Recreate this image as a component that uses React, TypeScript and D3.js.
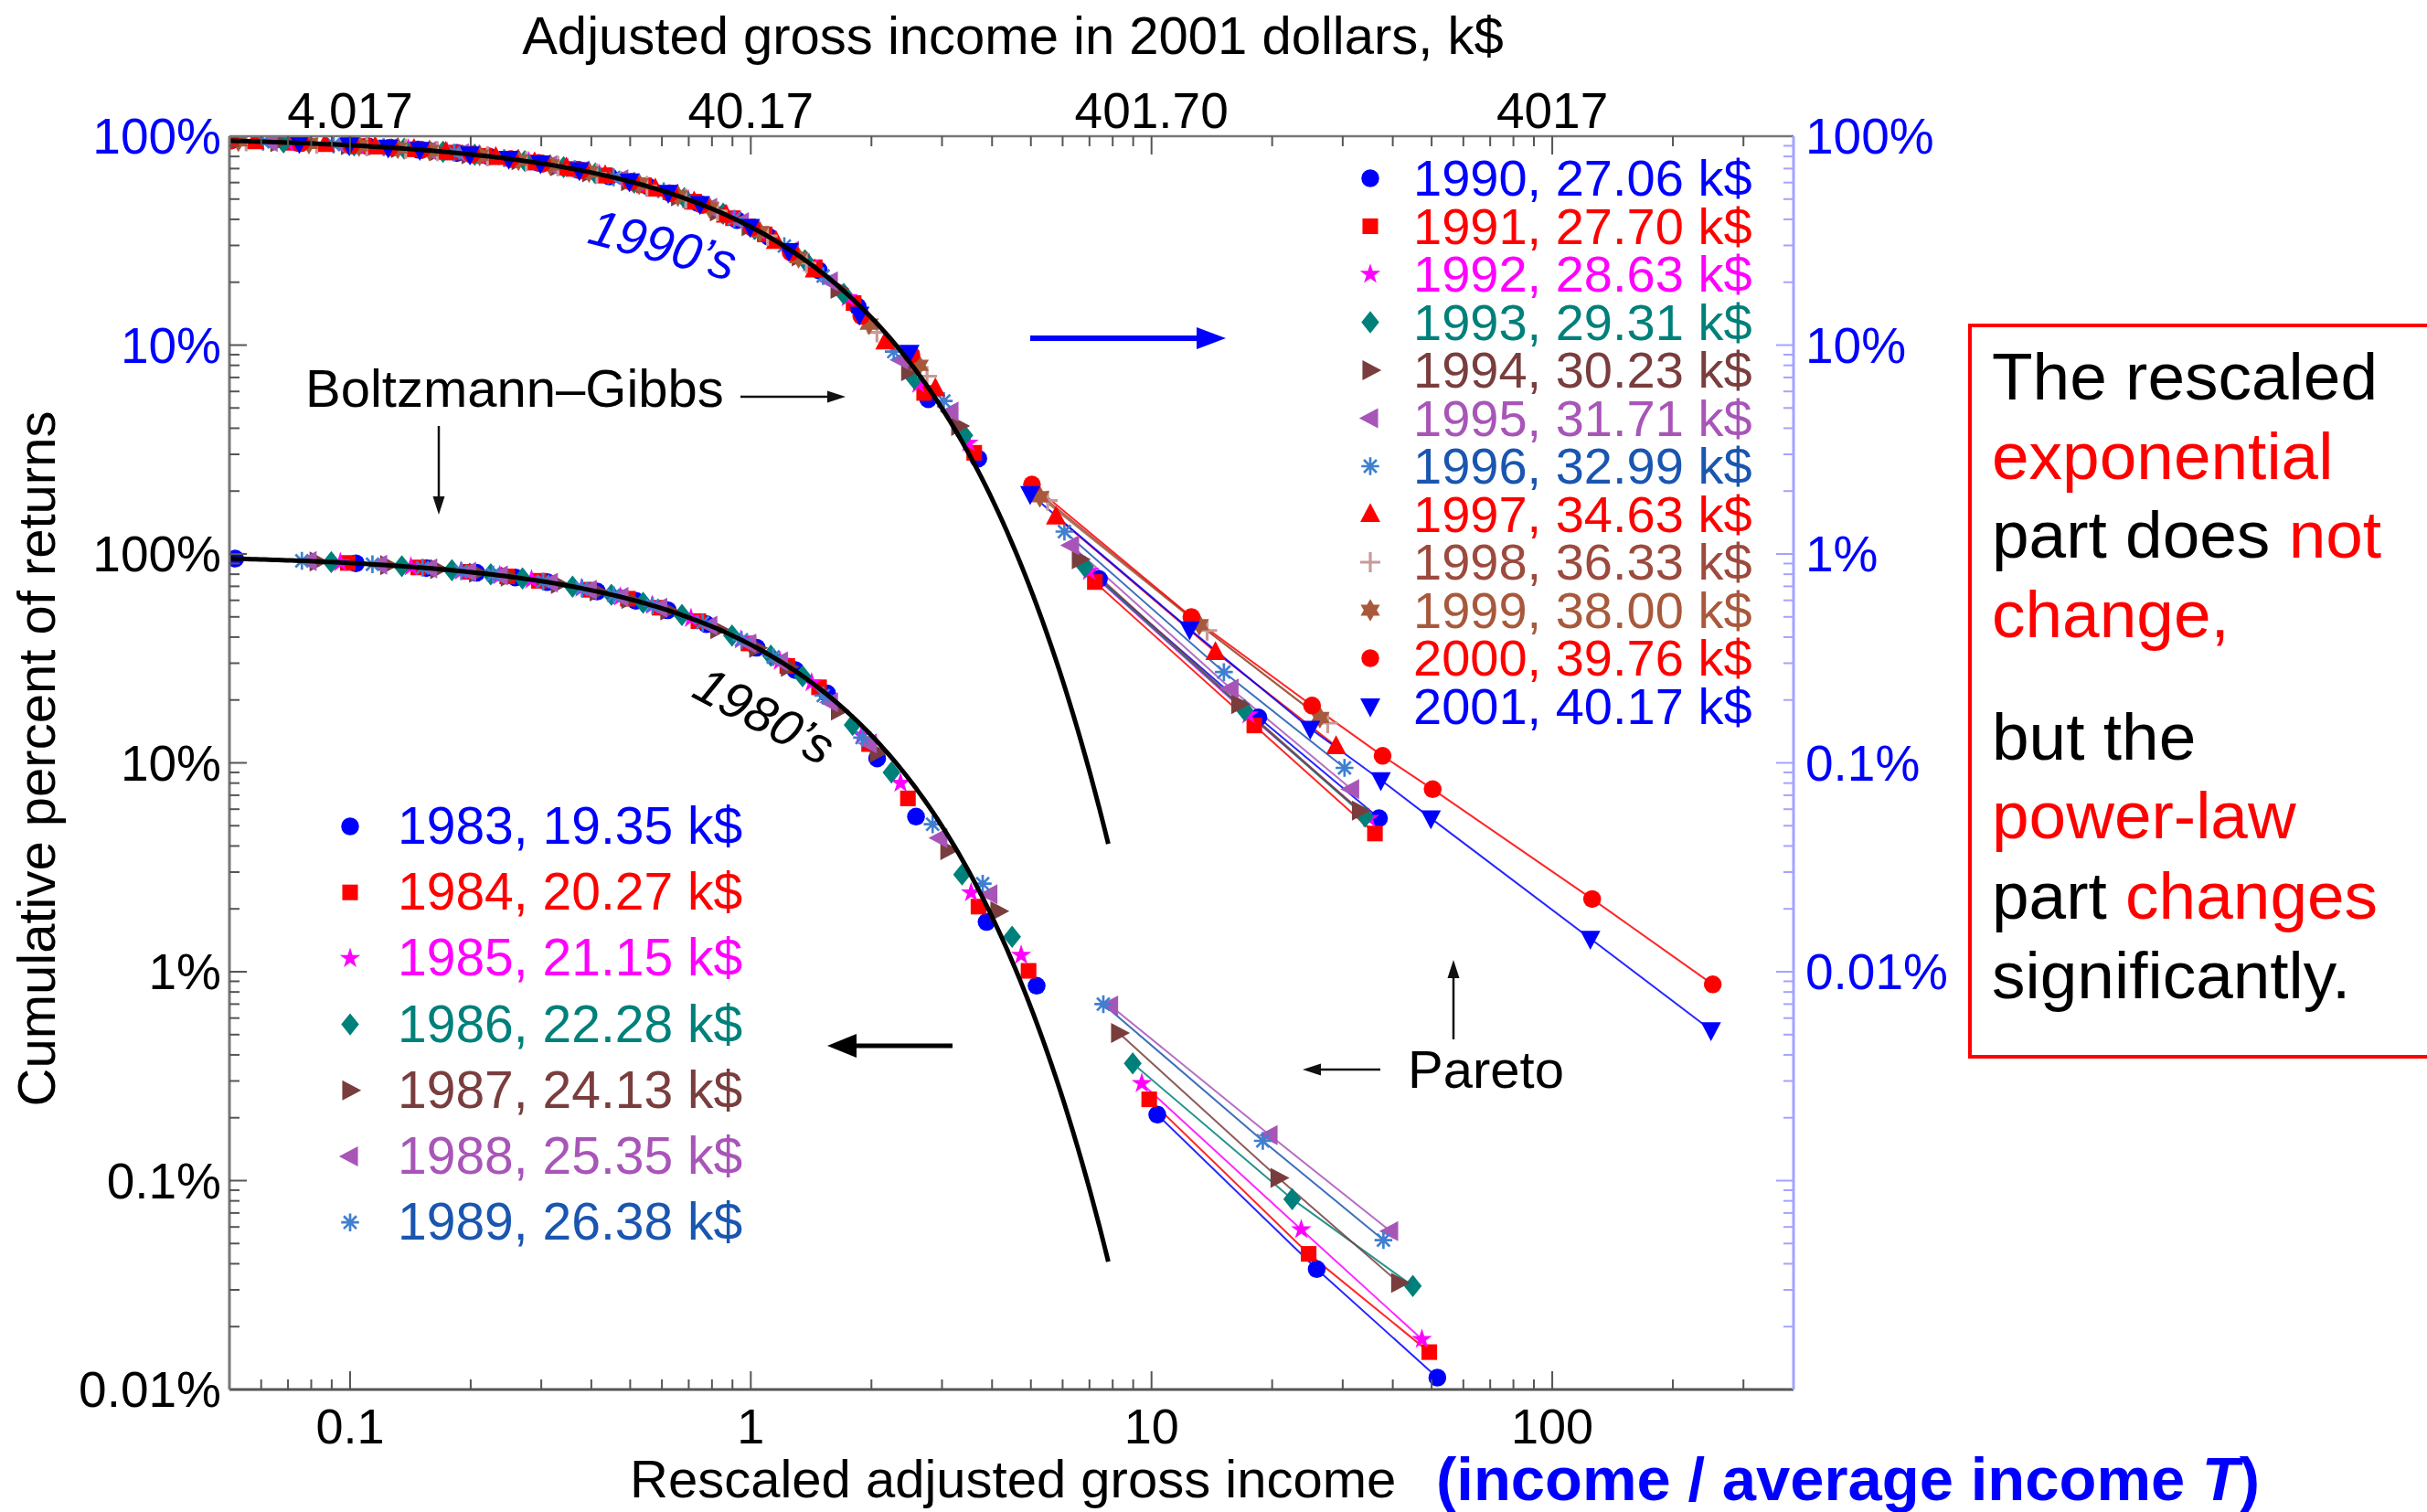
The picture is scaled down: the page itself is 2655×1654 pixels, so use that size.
import React from "react";
import * as d3 from "d3";

const WIDTH = 2655;
const HEIGHT = 1654;
const FRAME = { left: 251, right: 1962, top: 149, bottom: 1520 };
const FONT = "'Liberation Sans', Arial, Helvetica, sans-serif";

// ---- axes -------------------------------------------------------------
const xDomain = [0.05, 400]; // rescaled income, income / T
const bottomTickValues = [0.1, 1, 10, 100];
const bottomTickLabels = ["0.1", "1", "10", "100"];
const topTickLabels = ["4.017", "40.17", "401.70", "4017"]; // k$ at T = 40.17

// left axis, expressed on the 1980s percent scale
const leftTickPercents = [10000, 1000, 100, 10, 1, 0.1, 0.01];
const leftTickLabels = ["100%", "10%", "100%", "10%", "1%", "0.1%", "0.01%"];
const leftTickNineties = [true, true, false, false, false, false, false];
// right axis, on the 1990s percent scale
const rightTickPercents = [100, 10, 1, 0.1, 0.01];
const rightTickLabels = ["100%", "10%", "1%", "0.1%", "0.01%"];

// ---- income brackets (k$) ------------------------------------------------
const bgBracketsK = [1, 2, 3, 4, 5, 6, 8, 10, 12, 15, 20, 25, 30, 40, 50, 75, 100];
const paretoBracketsK = [200, 500, 1000];
const paretoBracketsLongK = [200, 500, 1000, 1500, 2000, 5000, 10000];

// ---- years and temperatures T (k$) ---------------------------------------
const years80s = [1983, 1984, 1985, 1986, 1987, 1988, 1989];
const temps80s = [19.35, 20.27, 21.15, 22.28, 24.13, 25.35, 26.38];
const years90s = [1990, 1991, 1992, 1993, 1994, 1995, 1996, 1997, 1998, 1999, 2000, 2001];
const temps90s = [27.06, 27.7, 28.63, 29.31, 30.23, 31.71, 32.99, 34.63, 36.33, 38.0, 39.76, 40.17];

// ---- cumulative percent of returns above each bracket ----------------------
const cum1983 = [95.0, 90.2, 85.6, 81.3, 77.2, 73.3, 66.1, 59.6, 53.8, 46.1, 35.6, 27.8, 21.5, 10.5, 5.53, 1.73, 0.857];
const cum1984 = [null, 90.6, 86.2, 82.1, 78.1, 74.4, 67.4, 61.1, 55.3, 47.7, 37.3, 29.1, 23.0, 12.3, 6.76, 2.05, 1.01];
const cum1985 = [null, 91.0, 86.8, 82.8, 78.9, 75.3, 68.5, 62.3, 56.7, 49.2, 38.8, 30.7, 24.2, 13.6, 8.0, 2.39, 1.2];
const cum1986 = [null, 91.4, 87.4, 83.6, 79.9, 76.4, 69.8, 63.8, 58.4, 51.0, 40.7, 32.6, 26.0, 15.2, 9.0, 2.92, 1.47];
const cum1987 = [null, 92.0, 88.3, 84.7, 81.3, 78.0, 71.8, 66.1, 60.8, 53.7, 43.7, 35.5, 28.8, 17.8, 11.2, 3.82, 1.95];
const cum1988 = [null, 92.4, 88.8, 85.4, 82.1, 78.9, 72.9, 67.4, 62.3, 55.3, 45.4, 37.3, 30.6, 19.5, 12.4, 4.37, 2.35];
const cum1989 = [null, 92.7, 89.3, 85.9, 82.7, 79.7, 73.8, 68.5, 63.4, 56.6, 46.9, 38.8, 32.1, 21.0, 13.2, 5.08, 2.64];

const cum1990 = [null, 92.9, 89.5, 86.3, 83.1, 80.1, 74.4, 69.1, 64.2, 57.5, 47.8, 39.7, 33.0, 22.8, 15.3, 5.51, 2.86];
const cum1991 = [null, 93.0, 89.7, 86.6, 83.5, 80.5, 74.9, 69.7, 64.9, 58.2, 48.6, 40.5, 33.9, 23.6, 15.9, 5.9, 3.05];
const cum1992 = [null, 93.3, 90.1, 87.0, 84.0, 81.1, 75.6, 70.5, 65.8, 59.2, 49.7, 41.8, 35.1, 24.7, 16.9, 6.5, 3.4];
const cum1993 = [null, 93.4, 90.3, 87.2, 84.3, 81.5, 76.1, 71.1, 66.4, 59.9, 50.6, 42.6, 35.9, 25.5, 17.6, 6.9, 3.7];
const cum1994 = [null, 93.6, 90.6, 87.6, 84.8, 82.0, 76.8, 71.8, 67.2, 60.9, 51.6, 43.7, 37.1, 26.6, 18.6, 7.5, 4.1];
const cum1995 = [null, 93.9, 91.0, 88.2, 85.4, 82.8, 77.7, 72.9, 68.5, 62.3, 53.2, 45.5, 38.8, 28.3, 20.2, 8.5, 4.8];
const cum1996 = [null, 94.1, 91.3, 88.6, 85.9, 83.4, 78.5, 73.9, 69.5, 63.5, 54.5, 46.9, 40.3, 29.8, 21.4, 9.3, 5.4];
const cum1997 = [null, 94.4, 91.7, 89.1, 86.6, 84.1, 79.4, 74.9, 70.7, 64.9, 56.1, 48.6, 42.1, 31.5, 23.0, 10.4, 6.2];
const cum1998 = [null, 94.6, 92.1, 89.6, 87.1, 84.8, 80.2, 75.9, 71.9, 66.2, 57.7, 50.3, 43.8, 33.3, 24.7, 11.5, 7.1];
const cum1999 = [null, 94.9, 92.4, 90.0, 87.7, 85.4, 81.0, 76.9, 72.9, 67.4, 59.1, 51.8, 45.4, 34.9, 26.2, 12.6, 8.0];
const cum2000 = [null, 95.1, 92.7, 90.4, 88.2, 86.0, 81.8, 77.8, 73.9, 68.6, 60.5, 53.3, 47.0, 36.6, 27.8, 13.8, 9.0];
const cum2001 = [null, 95.1, 92.8, 90.5, 88.3, 86.1, 81.9, 78.0, 74.2, 68.8, 60.8, 53.7, 47.4, 36.9, 28.2, 14.0, 9.2];

// ---- Pareto tails (percent above 200k, 500k, 1M, ...) ----------------------
const tail1983 = [0.207, 0.0377, 0.0114];
const tail1984 = [0.245, 0.0446, 0.0151];
const tail1985 = [0.292, 0.0583, 0.0174];
const tail1986 = [0.364, 0.0816, 0.0313];
const tail1987 = [0.509, 0.103, 0.0324];
const tail1988 = [0.689, 0.165, 0.0573];
const tail1989 = [0.7, 0.155, 0.0519];

const tail1990 = [0.759, 0.165, 0.0543];
const tail1991 = [0.734, 0.151, 0.0459];
const tail1992 = [0.826, 0.17, 0.0543];
const tail1993 = [0.869, 0.179, 0.0553];
const tail1994 = [0.944, 0.191, 0.0591];
const tail1995 = [1.1, 0.227, 0.0748];
const tail1996 = [1.28, 0.272, 0.0946];
const tail1997 = [1.51, 0.339, 0.12];
const tail1998 = [1.8, 0.43, 0.155];
const tail1999 = [1.88, 0.459, 0.165];
const tail2000 = [2.15, 0.499, 0.188, 0.108, 0.0748, 0.0223, 0.0087];
const tail2001 = [1.94, 0.436, 0.146, 0.0828, 0.0543, 0.0144, 0.00526];

const cum80s = [cum1983, cum1984, cum1985, cum1986, cum1987, cum1988, cum1989];
const tails80s = [tail1983, tail1984, tail1985, tail1986, tail1987, tail1988, tail1989];
const cum90s = [cum1990, cum1991, cum1992, cum1993, cum1994, cum1995, cum1996, cum1997, cum1998, cum1999, cum2000, cum2001];
const tails90s = [tail1990, tail1991, tail1992, tail1993, tail1994, tail1995, tail1996, tail1997, tail1998, tail1999, tail2000, tail2001];

// ---- series styles -------------------------------------------------------
type Shape =
  | "circle" | "square" | "star" | "diamond" | "triRight" | "triLeft"
  | "triUp" | "triDown" | "asterisk" | "plus" | "hexagram";

const styles80s: { color: string; mark: string; shape: Shape }[] = [
  { color: "#0000ff", mark: "#0000ff", shape: "circle" },
  { color: "#ff0000", mark: "#ff0000", shape: "square" },
  { color: "#ff00ff", mark: "#ff00ff", shape: "star" },
  { color: "#00807a", mark: "#00807a", shape: "diamond" },
  { color: "#7a3d3d", mark: "#7a3d3d", shape: "triRight" },
  { color: "#a855b8", mark: "#a855b8", shape: "triLeft" },
  { color: "#1a56b0", mark: "#3f7fd0", shape: "asterisk" },
];
const styles90s: { color: string; mark: string; shape: Shape }[] = [
  ...styles80s,
  { color: "#ff0000", mark: "#ff0000", shape: "triUp" },
  { color: "#9c4a3e", mark: "#c89a98", shape: "plus" },
  { color: "#a8593c", mark: "#a8593c", shape: "hexagram" },
  { color: "#ff0000", mark: "#ff0000", shape: "circle" },
  { color: "#0000ff", mark: "#0000ff", shape: "triDown" },
];

// ---- scales --------------------------------------------------------------
const xScale = d3.scaleLog().domain(xDomain).range([FRAME.left, FRAME.right]);
const y80 = d3.scaleLog().domain([0.01, 10000]).range([FRAME.bottom, FRAME.top]);
const y90 = d3.scaleLog().domain([0.0001, 100]).range([FRAME.bottom, FRAME.top]);

function logTicks(lo: number, hi: number) {
  const out: { v: number; major: boolean }[] = [];
  for (let k = Math.floor(Math.log10(lo)); k <= Math.ceil(Math.log10(hi)); k++) {
    for (let m = 1; m <= 9; m++) {
      const v = m * Math.pow(10, k);
      if (v > lo * 1.001 && v < hi * 0.999) out.push({ v, major: m === 1 });
    }
  }
  return out;
}

// Boltzmann-Gibbs law exp(-r) for the rescaled income r
const bgCurveX = d3.range(0, 201).map((i) => 0.05 * Math.pow(7.8 / 0.05, i / 200));
const bgLaw = (r: number) => 100 * Math.exp(-r);

const MS = 1.22; // marker scale
const starPath = d3.symbol(d3.symbolStar, 105 * MS * MS)() as string;

function Marker({ shape, color, x, y }: { shape: Shape; color: string; x: number; y: number }) {
  const t = `translate(${x},${y}) scale(${MS})`;
  switch (shape) {
    case "circle":
      return <circle cx={x} cy={y} r={8 * MS} fill={color} />;
    case "square":
      return <rect x={x - 7 * MS} y={y - 7 * MS} width={14 * MS} height={14 * MS} fill={color} />;
    case "star":
      return <path transform={`translate(${x},${y})`} d={starPath} fill={color} />;
    case "diamond":
      return <path transform={t} d="M0,-10L8,0L0,10L-8,0Z" fill={color} />;
    case "triRight":
      return <path transform={t} d="M-7,-9L10,0L-7,9Z" fill={color} />;
    case "triLeft":
      return <path transform={t} d="M7,-9L-10,0L7,9Z" fill={color} />;
    case "triUp":
      return <path transform={t} d="M0,-10L9,7L-9,7Z" fill={color} />;
    case "triDown":
      return <path transform={t} d="M0,10L9,-7L-9,-7Z" fill={color} />;
    case "asterisk":
      return (
        <path transform={t} d="M-8,0H8M0,-8V8M-5.7,-5.7L5.7,5.7M-5.7,5.7L5.7,-5.7"
          stroke={color} strokeWidth={2.2} fill="none" />
      );
    case "plus":
      return <path transform={t} d="M-9,0H9M0,-9V9" stroke={color} strokeWidth={2.6} fill="none" />;
    case "hexagram":
      return <path transform={t} d="M0,-10L8.7,5L-8.7,5Z M0,10L-8.7,-5L8.7,-5Z" fill={color} />;
  }
  return null;
}

function Arrow({ x1, y1, x2, y2, color, width, headLen, headW }: {
  x1: number; y1: number; x2: number; y2: number; color: string;
  width: number; headLen: number; headW: number;
}) {
  const a = Math.atan2(y2 - y1, x2 - x1);
  const bx = x2 - headLen * Math.cos(a);
  const by = y2 - headLen * Math.sin(a);
  const px = (headW / 2) * -Math.sin(a);
  const py = (headW / 2) * Math.cos(a);
  return (
    <g>
      <line x1={x1} y1={y1} x2={bx} y2={by} stroke={color} strokeWidth={width} />
      <path d={`M${x2},${y2}L${bx + px},${by + py}L${bx - px},${by - py}Z`} fill={color} />
    </g>
  );
}

type Pt = { x: number; y: number };

function buildPoints(brackets: number[], values: (number | null)[], T: number, y: d3.ScaleLogarithmic<number, number>) {
  const pts: Pt[] = [];
  brackets.forEach((b, i) => {
    const v = values[i];
    if (v == null) return;
    const r = b / T;
    if (r < xDomain[0] || r > xDomain[1]) return;
    pts.push({ x: xScale(r), y: y(v) });
  });
  return pts;
}

export default function App() {
  const xTicks = logTicks(xDomain[0], xDomain[1]);
  const yTicks = logTicks(0.01, 10000);
  const lineGen = d3.line<Pt>().x((d) => d.x).y((d) => d.y);

  const decades = [
    { years: years80s, temps: temps80s, cums: cum80s, tails: tails80s, styles: styles80s, y: y80 },
    { years: years90s, temps: temps90s, cums: cum90s, tails: tails90s, styles: styles90s, y: y90 },
  ];

  const marks: React.ReactNode[] = [];
  const fits: React.ReactNode[] = [];
  decades.forEach((dec) => {
    dec.years.forEach((yr, i) => {
      const T = dec.temps[i];
      const st = dec.styles[i];
      const body = buildPoints(bgBracketsK, dec.cums[i], T, dec.y);
      const tailK = dec.tails[i].length > 3 ? paretoBracketsLongK : paretoBracketsK;
      const tail = buildPoints(tailK, dec.tails[i], T, dec.y);
      fits.push(
        <path key={`f${yr}`} d={lineGen(tail) as string} fill="none" stroke={st.color}
          strokeWidth={2} strokeOpacity={0.85} />
      );
      [...body, ...tail].forEach((p, j) =>
        marks.push(
          <Marker key={`m${yr}-${j}`} shape={st.shape} color={st.mark} x={p.x} y={p.y} />
        )
      );
    });
  });

  const curve80 = lineGen(bgCurveX.map((r) => ({ x: xScale(r), y: y80(bgLaw(r)) }))) as string;
  const curve90 = lineGen(bgCurveX.map((r) => ({ x: xScale(r), y: y90(bgLaw(r)) }))) as string;

  const axisGrey = "#555";
  const rightBlue = "#a3a3ff";

  return (
    <svg width={WIDTH} height={HEIGHT} viewBox={`0 0 ${WIDTH} ${HEIGHT}`}
      style={{ position: "absolute", left: 0, top: 0, background: "#fff" }} fontFamily={FONT}>
      <rect x={0} y={0} width={WIDTH} height={HEIGHT} fill="#fff" />
      <defs>
        <clipPath id="plotArea">
          <rect x={FRAME.left} y={FRAME.top} width={FRAME.right - FRAME.left} height={FRAME.bottom - FRAME.top} />
        </clipPath>
      </defs>

      {/* data */}
      <g clipPath="url(#plotArea)">
        {fits}
        {marks}
        <path d={curve90} fill="none" stroke="#000" strokeWidth={5} />
        <path d={curve80} fill="none" stroke="#000" strokeWidth={5} />
      </g>

      {/* frame */}
      <line x1={FRAME.left} y1={FRAME.top} x2={FRAME.right} y2={FRAME.top} stroke="#777" strokeWidth={2.5} />
      <line x1={FRAME.left} y1={FRAME.bottom} x2={FRAME.right} y2={FRAME.bottom} stroke={axisGrey} strokeWidth={3} />
      <line x1={FRAME.left} y1={FRAME.top} x2={FRAME.left} y2={FRAME.bottom} stroke="#777" strokeWidth={3} />
      <line x1={FRAME.right} y1={FRAME.top} x2={FRAME.right} y2={FRAME.bottom} stroke={rightBlue} strokeWidth={3} />

      {/* x ticks, bottom and top */}
      {xTicks.map((t, i) => {
        const x = xScale(t.v);
        const len = t.major ? 20 : 11;
        return (
          <g key={`xt${i}`} stroke={axisGrey} strokeWidth={2}>
            <line x1={x} y1={FRAME.bottom} x2={x} y2={FRAME.bottom - len} />
            <line x1={x} y1={FRAME.top} x2={x} y2={FRAME.top + len} />
          </g>
        );
      })}
      {bottomTickValues.map((v, i) => (
        <text key={`xb${i}`} x={xScale(v)} y={1579} fontSize={54} textAnchor="middle" fill="#000">
          {bottomTickLabels[i]}
        </text>
      ))}
      {bottomTickValues.map((v, i) => (
        <text key={`xtop${i}`} x={xScale(v)} y={140} fontSize={55} textAnchor="middle" fill="#000">
          {topTickLabels[i]}
        </text>
      ))}

      {/* y ticks, left and right */}
      {yTicks.map((t, i) => {
        const y = y80(t.v);
        const len = t.major ? 19 : 11;
        return (
          <g key={`yt${i}`} strokeWidth={2}>
            <line x1={FRAME.left} y1={y} x2={FRAME.left + len} y2={y} stroke={axisGrey} />
            <line x1={FRAME.right} y1={y} x2={FRAME.right - len} y2={y} stroke={rightBlue} />
          </g>
        );
      })}
      {leftTickPercents.map((p, i) => (
        <text key={`yl${i}`} x={242} y={y80(p) + 19} fontSize={55} textAnchor="end"
          fill={leftTickNineties[i] ? "#0000ff" : "#000"}>
          {leftTickLabels[i]}
        </text>
      ))}
      {rightTickPercents.map((p, i) => (
        <text key={`yr${i}`} x={1975} y={y90(p) + 19} fontSize={55} textAnchor="start" fill="#0000ff">
          {rightTickLabels[i]}
        </text>
      ))}

      {/* axis titles */}
      <text x={1108} y={59} fontSize={58} textAnchor="middle" fill="#000">
        Adjusted gross income in 2001 dollars, k$
      </text>
      <text transform="translate(60,830) rotate(-90)" fontSize={58} textAnchor="middle" fill="#000">
        Cumulative percent of returns
      </text>
      <text x={689} y={1638} fontSize={58} fill="#000">
        Rescaled adjusted gross income
      </text>
      <text x={1571} y={1641} fontSize={67} fontWeight="bold" fill="#0000ff">
        (income / average income <tspan fontStyle="italic">T</tspan>)
      </text>

      {/* legends */}
      {years90s.map((yr, i) => {
        const base = 214 + i * 52.5;
        return (
          <g key={`lg90-${yr}`}>
            <Marker shape={styles90s[i].shape} color={styles90s[i].mark} x={1499} y={base - 19} />
            <text x={1546} y={base} fontSize={56} fill={styles90s[i].color}>
              {`${yr}, ${temps90s[i].toFixed(2)} k$`}
            </text>
          </g>
        );
      })}
      {years80s.map((yr, i) => {
        const base = 923 + i * 72.2;
        return (
          <g key={`lg80-${yr}`}>
            <Marker shape={styles80s[i].shape} color={styles80s[i].mark} x={383} y={base - 19} />
            <text x={435} y={base} fontSize={57} fill={styles80s[i].color}>
              {`${yr}, ${temps80s[i].toFixed(2)} k$`}
            </text>
          </g>
        );
      })}

      {/* annotations */}
      <text transform="translate(725,268) rotate(15)" fontSize={56} fontStyle="italic"
        textAnchor="middle" fill="#0000ff" dy={19}>
        1990’s
      </text>
      <text transform="translate(836,783) rotate(28)" fontSize={56} fontStyle="italic"
        textAnchor="middle" fill="#000" dy={19}>
        1980’s
      </text>
      <text x={334} y={445} fontSize={58} fill="#000">Boltzmann–Gibbs</text>
      <Arrow x1={810} y1={434} x2={925} y2={434} color="#111" width={2.5} headLen={20} headW={13} />
      <Arrow x1={480} y1={466} x2={480} y2={563} color="#111" width={2.5} headLen={20} headW={13} />
      <Arrow x1={1127} y1={370} x2={1341} y2={370} color="#0000ff" width={6} headLen={32} headW={24} />
      <Arrow x1={1042} y1={1144} x2={905} y2={1144} color="#000" width={5} headLen={32} headW={26} />
      <text x={1540} y={1190} fontSize={58} fill="#000">Pareto</text>
      <Arrow x1={1510} y1={1170} x2={1425} y2={1170} color="#111" width={2.5} headLen={20} headW={13} />
      <Arrow x1={1590} y1={1137} x2={1590} y2={1050} color="#111" width={2.5} headLen={20} headW={13} />

      {/* commentary box */}
      <rect x={2155} y={356} width={560} height={800} fill="none" stroke="#ff0000" strokeWidth={4} />
      <g fontSize={73} fill="#000">
        <text x={2179} y={437}>The rescaled</text>
        <text x={2179} y={524} fill="#ff0000">exponential</text>
        <text x={2179} y={610}>part does <tspan fill="#ff0000">not</tspan></text>
        <text x={2179} y={697} fill="#ff0000">change,</text>
        <text x={2179} y={831}>but the</text>
        <text x={2179} y={917} fill="#ff0000">power-law</text>
        <text x={2179} y={1005}>part <tspan fill="#ff0000">changes</tspan></text>
        <text x={2179} y={1092}>significantly.</text>
      </g>
    </svg>
  );
}
